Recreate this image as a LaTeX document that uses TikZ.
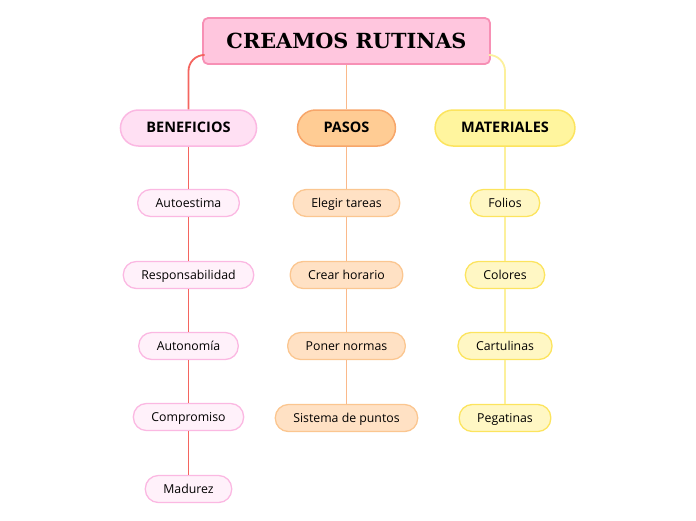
\documentclass[tikz,border=0pt]{standalone}
\usepackage{fontspec}
\setmainfont{Open Sans}
\newfontfamily\titlefont{DejaVu Serif}
\usepackage{tikz}
\usetikzlibrary{positioning}
\definecolor{titlefill}{HTML}{FFC6DE}
\definecolor{titledraw}{HTML}{F790B5}
\definecolor{benfill}{HTML}{FFE0F3}
\definecolor{bendraw}{HTML}{FBB8E2}
\definecolor{benkid}{HTML}{FFF1FA}
\definecolor{benline}{HTML}{F4655F}
\definecolor{pasfill}{HTML}{FFCC94}
\definecolor{pasdraw}{HTML}{F7A66A}
\definecolor{paskid}{HTML}{FFE1C4}
\definecolor{paskiddraw}{HTML}{FBC690}
\definecolor{pasline}{HTML}{FAB98A}
\definecolor{matfill}{HTML}{FFF59E}
\definecolor{matdraw}{HTML}{FCE45E}
\definecolor{matkid}{HTML}{FFF7C4}
\definecolor{matline}{HTML}{FCF09C}

\begin{document}
\begin{tikzpicture}[x=1pt, y=-1pt,
  rootbox/.style={draw=titledraw, fill=titlefill, line width=1.8pt, rounded corners=5pt,
    minimum height=46pt, minimum width=287pt, text height=2.7ex, text depth=0ex,
    font=\titlefont\bfseries\fontsize{20.8}{24}\selectfont},
  topic/.style={line width=1.5pt, rounded corners=18pt, minimum height=36pt,
    inner xsep=26pt, text height=2.0ex, text depth=0.2ex,
    font=\bfseries\fontsize{14.5}{17}\selectfont},
  sub/.style={line width=1.3pt, rounded corners=13pt, minimum height=27pt,
    inner xsep=18pt, text height=2.0ex, text depth=0.2ex,
    font=\fontsize{12.3}{15}\selectfont},
  bsub/.style={sub, draw=bendraw, fill=benkid},
  psub/.style={sub, draw=paskiddraw, fill=paskid},
  msub/.style={sub, draw=matdraw, fill=matkid},
  link/.style={line width=1.8pt}
]
  \useasboundingbox (0,0) rectangle (696,520);

  \node[rootbox] (root) at (346.5,41) {CREAMOS RUTINAS};

  \node[topic, draw=bendraw, fill=benfill] (benef) at (188.5,128) {BENEFICIOS};
  \node[topic, draw=pasdraw, fill=pasfill] (pasos) at (346.5,128) {PASOS};
  \node[topic, draw=matdraw, fill=matfill] (mater) at (505,128) {MATERIALES};

  % beneficios
  \node[bsub] (autoest) at (188.5,203) {Autoestima};
  \node[bsub] (respons) at (188.5,275) {Responsabilidad};
  \node[bsub] (autonom) at (188.5,346) {Autonomía};
  \node[bsub] (comprom) at (188.5,417) {Compromiso};
  \node[bsub] (madurez) at (188.5,489) {Madurez};

  % pasos
  \node[psub] (elegir) at (346.5,203) {Elegir tareas};
  \node[psub] (horario) at (346.5,275) {Crear horario};
  \node[psub] (normas) at (346.5,346) {Poner normas};
  \node[psub] (puntos) at (346.5,418) {Sistema de puntos};

  % materiales
  \node[msub] (folios) at (505,203) {Folios};
  \node[msub] (colores) at (505,275) {Colores};
  \node[msub] (cartul) at (505,346) {Cartulinas};
  \node[msub] (pegat) at (505,418) {Pegatinas};

  \draw[link, benline, rounded corners=16pt] ([yshift=-14pt]root.west) -| (benef.north);
  \draw[link, pasline] (root.south) -- (pasos.north);
  \draw[link, matline, rounded corners=16pt] ([yshift=-14pt]root.east) -| (mater.north);

  \draw[link, benline] (benef) -- (autoest) -- (respons) -- (autonom) -- (comprom) -- (madurez);
  \draw[link, pasline] (pasos) -- (elegir) -- (horario) -- (normas) -- (puntos);
  \draw[link, matline] (mater) -- (folios) -- (colores) -- (cartul) -- (pegat);
\end{tikzpicture}
\end{document}
